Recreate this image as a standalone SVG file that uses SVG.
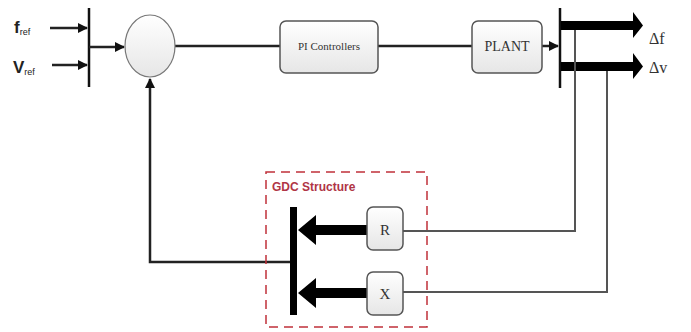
<svg xmlns="http://www.w3.org/2000/svg" width="691" height="332" viewBox="0 0 691 332">
<defs>
<linearGradient id="g" x1="0" y1="0" x2="0" y2="1">
<stop offset="0" stop-color="#ffffff"/>
<stop offset="1" stop-color="#e6e6e6"/>
</linearGradient>
<marker id="ah" viewBox="0 0 10 10" refX="9" refY="5" markerWidth="5" markerHeight="4" orient="auto" markerUnits="strokeWidth">
<path d="M0,0 L10,5 L0,10 z" fill="#111"/>
</marker>
</defs>
<style>
.box{fill:url(#g);stroke:#555;stroke-width:1.5}
.ln{fill:none;stroke:#222;stroke-width:2.5}
.thin{fill:none;stroke:#555;stroke-width:2}
.bar{fill:none;stroke:#111;stroke-width:2.5}
.serif{font-family:"Liberation Serif",serif;fill:#333}
.sans{font-family:"Liberation Sans",sans-serif;fill:#222}
</style>
<rect width="691" height="332" fill="#fff"/>
<g id="connectors">
<line class="ln" x1="50" y1="28" x2="87" y2="28" marker-end="url(#ah)"/>
<line class="ln" x1="52" y1="65" x2="87" y2="65" marker-end="url(#ah)"/>
<line class="bar" x1="89" y1="8" x2="89" y2="87"/>
<line class="ln" x1="89" y1="47" x2="124" y2="47" marker-end="url(#ah)"/>
<line class="ln" x1="175" y1="46" x2="280" y2="46"/>
<line class="ln" x1="378" y1="46" x2="472" y2="46"/>
<line class="ln" x1="542" y1="46" x2="558" y2="46" marker-end="url(#ah)"/>
<line class="bar" x1="560" y1="8" x2="560" y2="88" stroke-width="3"/>
<polygon points="561,21 633,21 633,12 643,25.5 633,38 633,30 561,30" fill="#000"/>
<polygon points="561,62 633,62 633,53 643,66.5 633,79 633,71 561,71" fill="#000"/>
<polyline class="thin" points="575,30 575,231 403,231"/>
<polyline class="thin" points="607,71 607,292 403,292"/>
<polygon points="367,225 316,225 316,215 298,230 316,245 316,235 367,235" fill="#000"/>
<polygon points="367,288 316,288 316,278 298,293 316,308 316,298 367,298" fill="#000"/>
<rect x="290" y="207" width="7" height="108" fill="#000"/>
<polyline class="ln" points="290,262 150,262 150,79" marker-end="url(#ah)"/>
</g>
<g id="inputs">
<text class="sans" x="14" y="33" font-size="17" font-weight="bold">f<tspan font-size="9" font-weight="normal" dy="2">ref</tspan></text>
<text class="sans" x="13" y="73" font-size="17" font-weight="bold">V<tspan font-size="9" font-weight="normal" dy="2">ref</tspan></text>
</g>
<g id="sum">
<ellipse cx="150" cy="46" rx="25" ry="31" fill="url(#g)" stroke="#777" stroke-width="1.2"/>
</g>
<g id="pi">
<rect class="box" x="280" y="21" width="98" height="52" rx="6"/>
<text class="serif" x="329" y="50" font-size="11" text-anchor="middle">PI Controllers</text>
</g>
<g id="plant">
<rect class="box" x="472" y="21" width="70" height="52" rx="6"/>
<text class="serif" x="507" y="51" font-size="14" text-anchor="middle">PLANT</text>
</g>
<g id="outputs">
<text class="serif" x="649" y="44" font-size="16">Δf</text>
<text class="serif" x="649" y="73" font-size="16">Δv</text>
</g>
<g id="gdc">
<rect x="266" y="172" width="161" height="155" fill="none" stroke="#c0303a" stroke-width="1.5" stroke-dasharray="9,6"/>
<text x="272" y="191" font-size="12" font-weight="bold" font-family="Liberation Sans, sans-serif" fill="#b03545">GDC Structure</text>
</g>
<g id="R">
<rect class="box" x="367" y="207" width="36" height="43" rx="6"/>
<text class="serif" x="385" y="235" font-size="15" text-anchor="middle">R</text>
</g>
<g id="X">
<rect class="box" x="367" y="272" width="36" height="43" rx="6"/>
<text class="serif" x="385" y="299" font-size="15" text-anchor="middle">X</text>
</g>
</svg>
